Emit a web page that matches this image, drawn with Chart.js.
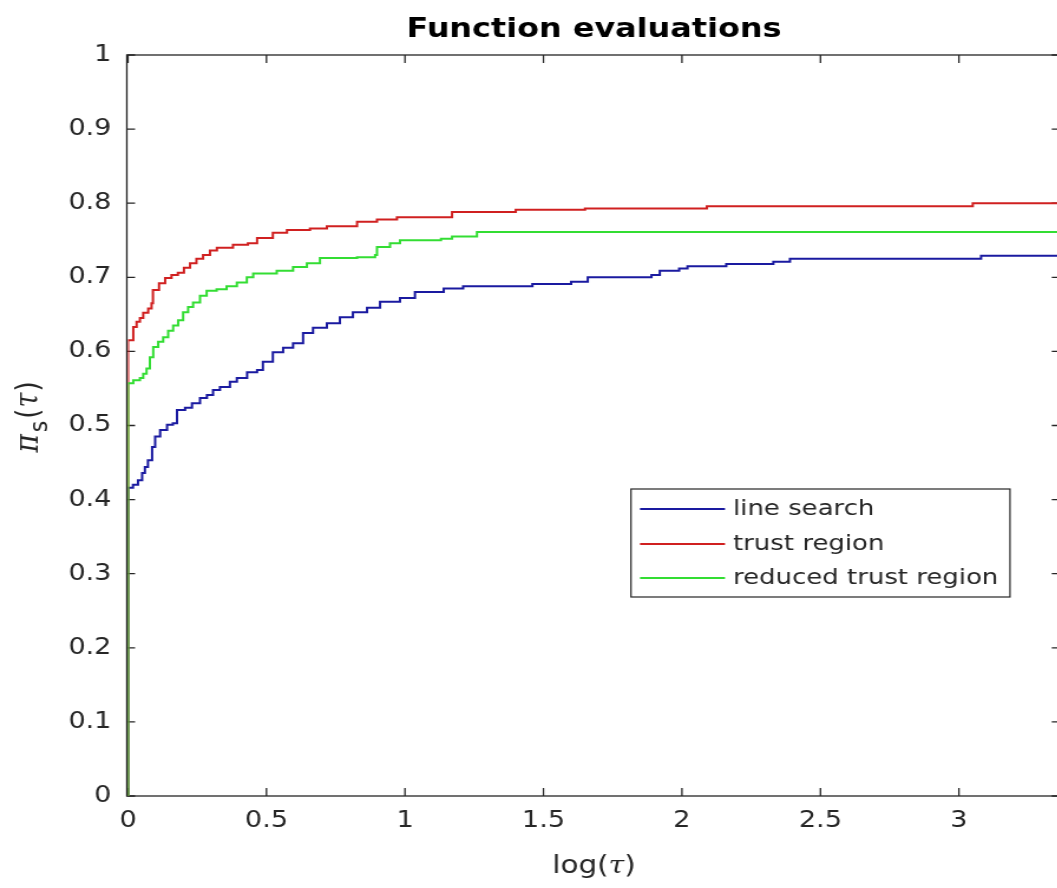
<!DOCTYPE html>
<html>
<head>
<meta charset="utf-8">
<script src="https://cdn.jsdelivr.net/npm/chart.js@4.4.1/dist/chart.umd.min.js"></script>
<style>
    html, body { margin: 0; padding: 0; background: #fff; overflow: hidden; width: 1057px; height: 888px; }
    #wrap { position: absolute; left: 0; top: 0; width: 900px; height: 888px; transform: scaleX(1.18); transform-origin: 0 0; }
    canvas { display: block; }
</style>
</head>
<body>
<div id="wrap"><canvas id="perf" width="900" height="888"></canvas></div>
<script>
    // the source picture is stretched sideways, so the whole canvas is too
    const STRETCH = 1.18;

    const seriesNames = ['line search', 'trust region', 'reduced trust region'];
    const seriesColors = ['#1a1aa0', '#d02020', '#33dd33'];

    const xTickValues = [0, 0.5, 1, 1.5, 2, 2.5, 3];
    const xTickLabels = ['0', '0.5', '1', '1.5', '2', '2.5', '3'];
    const yTickValues = [0, 0.1, 0.2, 0.3, 0.4, 0.5, 0.6, 0.7, 0.8, 0.9, 1];
    const yTickLabels = ['0', '0.1', '0.2', '0.3', '0.4', '0.5', '0.6', '0.7', '0.8', '0.9', '1'];

    // log(tau) where each profile steps up, and the value it steps to
    const lineSearchX = [0, 0, 0.018, 0.036, 0.051, 0.061, 0.072, 0.087, 0.098, 0.116, 0.141, 0.162, 0.177, 0.206, 0.231, 0.260, 0.285, 0.307, 0.332, 0.368, 0.393, 0.430, 0.466, 0.487, 0.523, 0.560, 0.596, 0.632, 0.668, 0.718, 0.765, 0.812, 0.863, 0.910, 0.982, 1.036, 1.14, 1.21, 1.46, 1.60, 1.66, 1.89, 1.92, 1.99, 2.02, 2.16, 2.33, 2.39, 3.08, 3.40];
    const lineSearchY = [0, 0.416, 0.420, 0.426, 0.436, 0.444, 0.453, 0.471, 0.485, 0.494, 0.501, 0.503, 0.521, 0.524, 0.530, 0.537, 0.541, 0.548, 0.552, 0.559, 0.564, 0.572, 0.575, 0.586, 0.599, 0.605, 0.611, 0.625, 0.632, 0.638, 0.646, 0.653, 0.659, 0.667, 0.672, 0.680, 0.685, 0.688, 0.691, 0.694, 0.700, 0.703, 0.709, 0.712, 0.715, 0.718, 0.721, 0.725, 0.729, 0.729];

    const trustX = [0, 0, 0.019, 0.031, 0.043, 0.055, 0.073, 0.085, 0.090, 0.112, 0.134, 0.157, 0.180, 0.202, 0.224, 0.247, 0.271, 0.296, 0.321, 0.379, 0.433, 0.466, 0.523, 0.574, 0.657, 0.718, 0.827, 0.899, 0.971, 1.17, 1.40, 1.65, 2.09, 3.05, 3.40];
    const trustY = [0, 0.615, 0.633, 0.640, 0.645, 0.652, 0.658, 0.665, 0.683, 0.692, 0.699, 0.703, 0.706, 0.713, 0.719, 0.725, 0.730, 0.736, 0.740, 0.744, 0.746, 0.753, 0.760, 0.764, 0.766, 0.769, 0.775, 0.778, 0.781, 0.788, 0.791, 0.793, 0.796, 0.800, 0.800];

    const reducedX = [0, 0, 0.019, 0.043, 0.055, 0.067, 0.079, 0.091, 0.109, 0.127, 0.145, 0.163, 0.181, 0.199, 0.217, 0.235, 0.260, 0.284, 0.320, 0.356, 0.393, 0.429, 0.452, 0.537, 0.596, 0.646, 0.693, 0.827, 0.892, 0.899, 0.946, 0.982, 1.13, 1.17, 1.26, 3.40];
    const reducedY = [0, 0.557, 0.561, 0.564, 0.570, 0.577, 0.592, 0.606, 0.613, 0.619, 0.628, 0.635, 0.642, 0.653, 0.660, 0.666, 0.675, 0.682, 0.684, 0.688, 0.693, 0.700, 0.705, 0.709, 0.714, 0.719, 0.726, 0.727, 0.730, 0.741, 0.746, 0.750, 0.752, 0.755, 0.761, 0.761];

    const INK = '#262626';
    const FONT = '"DejaVu Sans", sans-serif';
    const SERIF = '"DejaVu Serif", serif';

    function points(xs, ys) {
        return xs.map((x, i) => ({ x: x, y: ys[i] }));
    }

    // centred run of differently styled pieces, with an optional gap after each
    function drawParts(ctx, parts, cx, baseY) {
        let total = 0;
        parts.forEach(p => { ctx.font = p.font; p.w = ctx.measureText(p.t).width + (p.gap || 0); total += p.w; });
        let x = cx - total / 2;
        parts.forEach(p => {
            ctx.font = p.font;
            ctx.fillText(p.t, x, baseY + (p.dy || 0));
            x += p.w;
        });
    }

    const framePlugin = {
        id: 'frame',
        beforeDatasetsDraw(chart) {
            const { ctx, chartArea: a, scales } = chart;
            const tx = 7;
            const left = a.left - 1;
            ctx.save();
            ctx.strokeStyle = INK;
            ctx.lineWidth = 1.3;
            ctx.strokeRect(left, a.top, a.right - left, a.bottom - a.top);
            ctx.beginPath();
            xTickValues.forEach(v => {
                const px = scales.x.getPixelForValue(v);
                ctx.moveTo(px, a.bottom); ctx.lineTo(px, a.bottom - 8);
                ctx.moveTo(px, a.top); ctx.lineTo(px, a.top + 8);
            });
            yTickValues.forEach(v => {
                const py = scales.y.getPixelForValue(v);
                ctx.moveTo(left, py); ctx.lineTo(left + tx, py);
                ctx.moveTo(a.right, py); ctx.lineTo(a.right - tx, py);
            });
            ctx.stroke();
            ctx.restore();
        },
        afterDatasetsDraw(chart) {
            const { ctx, chartArea: a } = chart;
            ctx.save();

            // title and axis labels
            const mid = (a.left + a.right) / 2;
            ctx.fillStyle = '#000';
            ctx.textAlign = 'left';
            ctx.textBaseline = 'alphabetic';
            drawParts(ctx, [{ t: 'Function evaluations', font: 'bold 27px ' + FONT }], mid, 37);

            ctx.fillStyle = INK;
            drawParts(ctx, [
                { t: 'log(', font: '25px ' + FONT },
                { t: 'τ', font: 'italic 24px ' + SERIF },
                { t: ')', font: '25px ' + FONT }
            ], mid, 873);

            ctx.save();
            ctx.translate(38 / STRETCH, 417);
            ctx.rotate(-Math.PI / 2);
            drawParts(ctx, [
                { t: 'π', font: 'italic 28px ' + SERIF, gap: 2 },
                { t: 's', font: '22px ' + FONT, dy: 8, gap: 2 },
                { t: '(', font: '26px ' + FONT, gap: 1 },
                { t: 'τ', font: 'italic 27px ' + SERIF, gap: 1 },
                { t: ')', font: '26px ' + FONT }
            ], 0, 0);
            ctx.restore();

            // legend box
            const bx = 631 / STRETCH, bw = (1010 - 631) / STRETCH;
            const by = 489, bh = 108;
            ctx.fillStyle = '#fff';
            ctx.fillRect(bx, by, bw, bh);
            ctx.lineWidth = 1.2;
            ctx.strokeStyle = INK;
            ctx.strokeRect(bx, by, bw, bh);
            const rows = [509, 544, 578];
            chart.data.datasets.forEach((ds, i) => {
                const ry = rows[i];
                ctx.strokeStyle = ds.borderColor;
                ctx.lineWidth = 2;
                ctx.beginPath();
                ctx.moveTo(640 / STRETCH, ry);
                ctx.lineTo(725 / STRETCH, ry);
                ctx.stroke();
                ctx.fillStyle = INK;
                ctx.font = '22px ' + FONT;
                ctx.textBaseline = 'middle';
                ctx.fillText(ds.label, 733 / STRETCH, ry);
            });
            ctx.restore();
        }
    };

    const xs = [lineSearchX, trustX, reducedX];
    const ys = [lineSearchY, trustY, reducedY];

    new Chart(document.getElementById('perf'), {
        type: 'line',
        data: {
            datasets: seriesNames.map((name, i) => ({
                label: name,
                data: points(xs[i], ys[i]),
                borderColor: seriesColors[i],
                borderWidth: 2,
                pointRadius: 0,
                stepped: true,
                fill: false,
                order: 3 - i
            }))
        },
        options: {
            responsive: false,
            animation: false,
            devicePixelRatio: 1,
            layout: { padding: { top: 55, right: 900 - 1060 / STRETCH, left: 0, bottom: 0 } },
            plugins: { legend: { display: false }, title: { display: false }, tooltip: { enabled: false } },
            scales: {
                x: {
                    type: 'linear',
                    min: 0,
                    max: 3.365,
                    grid: { display: false, drawTicks: false },
                    border: { display: false },
                    afterFit: scale => { scale.height = 888 - 796; },
                    afterBuildTicks: scale => { scale.ticks = xTickValues.map(v => ({ value: v })); },
                    ticks: {
                        padding: 11,
                        color: INK,
                        font: { family: FONT, size: 23 },
                        maxRotation: 0,
                        callback: (v) => xTickLabels[xTickValues.indexOf(v)]
                    }
                },
                y: {
                    type: 'linear',
                    min: 0,
                    max: 1,
                    grid: { display: false, drawTicks: false },
                    border: { display: false },
                    afterFit: scale => { scale.width = 128 / STRETCH; },
                    afterBuildTicks: scale => { scale.ticks = yTickValues.map(v => ({ value: v })); },
                    ticks: {
                        padding: 14,
                        color: INK,
                        font: { family: FONT, size: 23 },
                        callback: (v) => yTickLabels[yTickValues.indexOf(v)]
                    }
                }
            }
        },
        plugins: [framePlugin]
    });
</script>
</body>
</html>
